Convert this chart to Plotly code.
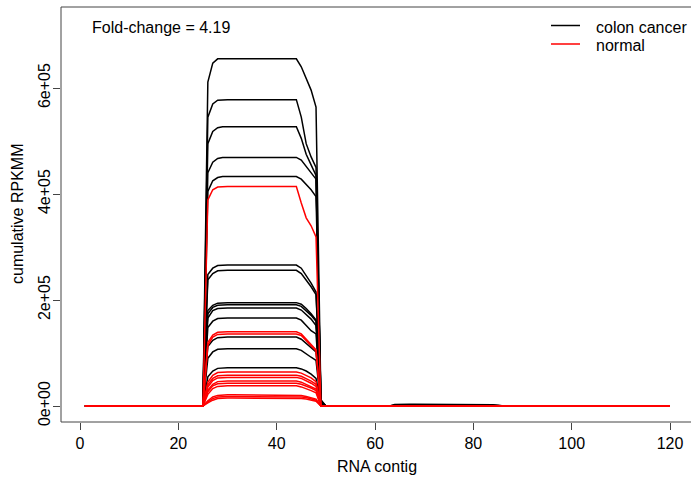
import plotly.graph_objects as go

# ---------------- data (values in units of 1e5 RPKMM) ----------------
contig = list(range(1, 121))

# colon cancer samples: values at contig 26,27,28 (rise), plateau (29..44), 45..49 (fall)
cancer_rise = [
    [6.11, 6.47, 6.55], [5.45, 5.70, 5.77], [4.95, 5.18, 5.25], [4.40, 4.60, 4.67],
    [4.05, 4.25, 4.31], [2.48, 2.60, 2.65], [2.38, 2.50, 2.55], [1.80, 1.90, 1.94],
    [1.74, 1.86, 1.90], [1.66, 1.80, 1.84], [1.48, 1.60, 1.65], [1.12, 1.24, 1.29],
    [0.90, 1.02, 1.07], [0.55, 0.66, 0.71],
]
cancer_plateau = [6.55, 5.78, 5.27, 4.69, 4.33, 2.66, 2.56, 1.95, 1.91, 1.85, 1.66, 1.30, 1.08, 0.72]
cancer_fall = [
    [6.40, 6.19, 5.96, 5.64, 0.12], [5.45, 4.95, 4.70, 4.50, 0.10], [5.05, 4.75, 4.55, 4.35, 0.09],
    [4.64, 4.52, 4.42, 4.28, 0.08], [4.28, 4.18, 4.08, 3.95, 0.08], [2.60, 2.46, 2.32, 2.15, 0.05],
    [2.50, 2.38, 2.25, 2.10, 0.05], [1.92, 1.84, 1.74, 1.62, 0.04], [1.88, 1.80, 1.71, 1.60, 0.04],
    [1.81, 1.72, 1.64, 1.52, 0.03], [1.62, 1.52, 1.42, 1.36, 0.03], [1.26, 1.18, 1.10, 1.02, 0.03],
    [1.05, 0.98, 0.92, 0.86, 0.02], [0.70, 0.66, 0.60, 0.52, 0.02],
]
# small second peak (contigs 64..85) present in two cancer samples
bump_start = 64
bump_sample_a = [0.030, 0.035, 0.035, 0.035, 0.035, 0.035, 0.035, 0.035, 0.035, 0.035, 0.035,
                 0.035, 0.035, 0.035, 0.035, 0.035, 0.035, 0.035, 0.033, 0.030, 0.025, 0.015]
bump_sample_b = [0.020, 0.025, 0.025, 0.025, 0.025, 0.025, 0.025, 0.025, 0.025, 0.025, 0.025,
                 0.025, 0.025, 0.025, 0.025, 0.025, 0.025, 0.025, 0.022, 0.020, 0.015, 0.010]

# normal samples
normal_rise = [
    [3.89, 4.08, 4.13], [1.20, 1.34, 1.39], [1.15, 1.30, 1.35], [0.45, 0.58, 0.63],
    [0.40, 0.52, 0.57], [0.36, 0.48, 0.53], [0.30, 0.41, 0.46], [0.27, 0.38, 0.42],
    [0.22, 0.33, 0.37], [0.10, 0.17, 0.20], [0.08, 0.14, 0.17], [0.06, 0.11, 0.14],
]
normal_plateau = [4.14, 1.40, 1.36, 0.64, 0.58, 0.54, 0.47, 0.43, 0.38, 0.21, 0.18, 0.15]
normal_fall = [
    [3.83, 3.55, 3.40, 3.19, 0.0], [1.36, 1.26, 1.16, 1.06, 0.0], [1.33, 1.24, 1.14, 1.04, 0.0],
    [0.62, 0.58, 0.53, 0.46, 0.0], [0.56, 0.52, 0.47, 0.41, 0.0], [0.52, 0.48, 0.43, 0.37, 0.0],
    [0.45, 0.41, 0.37, 0.32, 0.0], [0.41, 0.38, 0.34, 0.29, 0.0], [0.36, 0.33, 0.29, 0.25, 0.0],
    [0.20, 0.18, 0.16, 0.13, 0.0], [0.17, 0.16, 0.14, 0.11, 0.0], [0.14, 0.13, 0.11, 0.09, 0.0],
]

x_ticks = [0, 20, 40, 60, 80, 100, 120]
y_tickvals = [0, 2e5, 4e5, 6e5]
y_ticktext = ["0e+00", "2e+05", "4e+05", "6e+05"]
fold_change_text = "Fold-change = 4.19"
legend_labels = ["colon cancer", "normal"]
UNIT = 1e5


def build(rise, plateau, fall, bump=None):
    y = [0.0] * len(contig)
    for i, v in enumerate(rise):
        y[25 + i] = v * UNIT           # contigs 26..28
    for c in range(29, 45):
        y[c - 1] = plateau * UNIT       # flat plateau 29..44
    for i, v in enumerate(fall):
        y[44 + i] = v * UNIT           # contigs 45..49
    if bump is not None:
        for i, v in enumerate(bump):
            y[bump_start - 1 + i] = v * UNIT
    return y


fig = go.Figure()
bumps = {0: bump_sample_a, 1: bump_sample_b}
for k in range(len(cancer_plateau)):
    fig.add_trace(go.Scatter(x=contig, y=build(cancer_rise[k], cancer_plateau[k], cancer_fall[k], bumps.get(k)),
                             mode="lines", line=dict(color="black", width=1.5), showlegend=False,
                             hoverinfo="skip"))
for k in range(len(normal_plateau)):
    fig.add_trace(go.Scatter(x=contig, y=build(normal_rise[k], normal_plateau[k], normal_fall[k]),
                             mode="lines", line=dict(color="#ff0000", width=1.5), showlegend=False,
                             hoverinfo="skip"))

FONT = "Liberation Sans, Arial, Helvetica, sans-serif"
W, H = 691, 481
L, T = 61, 7
BOT = 422
B = H - BOT
pw, ph = W - L, BOT - T


def px(xp):   # page x -> paper
    return (xp - L) / pw


def py(yp):   # page y -> paper
    return (BOT - yp) / ph


shapes = [
    # box (left, top, bottom); right edge lies beyond the canvas
    dict(type="line", xref="paper", yref="paper", x0=0, x1=1.02, y0=1, y1=1, line=dict(color="#444", width=1)),
    dict(type="line", xref="paper", yref="paper", x0=0, x1=1.02, y0=0, y1=0, line=dict(color="#444", width=1)),
    dict(type="line", xref="paper", yref="paper", x0=0, x1=0, y0=0, y1=1, line=dict(color="#444", width=1)),
    # legend samples
    dict(type="line", xref="paper", yref="paper", x0=px(551), x1=px(580), y0=py(25.5), y1=py(25.5),
         line=dict(color="black", width=1.5)),
    dict(type="line", xref="paper", yref="paper", x0=px(551), x1=px(580), y0=py(44), y1=py(44),
         line=dict(color="#ff0000", width=1.5)),
]

annotations = [
    dict(text=fold_change_text, xref="paper", yref="paper", x=px(90), y=py(27), xanchor="left",
         yanchor="middle", showarrow=False, font=dict(size=16, color="black", family=FONT)),
    dict(text=legend_labels[0], xref="paper", yref="paper", x=px(594), y=py(27), xanchor="left",
         yanchor="middle", showarrow=False, font=dict(size=16, color="black", family=FONT)),
    dict(text=legend_labels[1], xref="paper", yref="paper", x=px(594), y=py(45), xanchor="left",
         yanchor="middle", showarrow=False, font=dict(size=16, color="black", family=FONT)),
    dict(text="RNA contig", xref="paper", yref="paper", x=px(377), y=py(466), xanchor="center",
         yanchor="middle", showarrow=False, font=dict(size=16, color="black", family=FONT)),
    dict(text="cumulative RPKMM", xref="paper", yref="paper", x=px(18), y=py(214), xanchor="center",
         yanchor="middle", textangle=-90, showarrow=False, font=dict(size=16, color="black", family=FONT)),
]

# axis ranges chosen so that 0 sits at page y=406, 6e5 at y=88; x=0 at page x=80, x=120 at x=670
y_lo = -(BOT - 406) / 53.0 * UNIT
y_hi = (406 - T) / 53.0 * UNIT
x_lo = (L - 80) / 4.917
x_hi = (W - 80) / 4.917

fig.update_layout(
    width=W, height=H,
    margin=dict(l=L, r=0, t=T, b=B, pad=0),
    paper_bgcolor="white", plot_bgcolor="white",
    font=dict(family=FONT, size=16, color="black"),
    shapes=shapes, annotations=annotations,
    showlegend=False,
    xaxis=dict(range=[x_lo, x_hi], tickvals=x_ticks, ticks="outside", ticklen=7, tickcolor="#444",
               showgrid=False, zeroline=False, showline=False, tickfont=dict(size=16, family=FONT)),
    yaxis=dict(range=[y_lo, y_hi], tickvals=y_tickvals, ticktext=y_ticktext, ticks="outside",
               ticklen=7, tickcolor="#444", tickangle=-90, ticklabelstandoff=-3, showgrid=False,
               zeroline=False, showline=False, tickfont=dict(size=16, family=FONT)),
)

fig.write_html(
    "out.html",
    config={"displayModeBar": False, "staticPlot": True},
    post_script="document.body.style.margin='0';document.body.style.overflow='hidden';"
                "document.documentElement.style.overflow='hidden';",
)
